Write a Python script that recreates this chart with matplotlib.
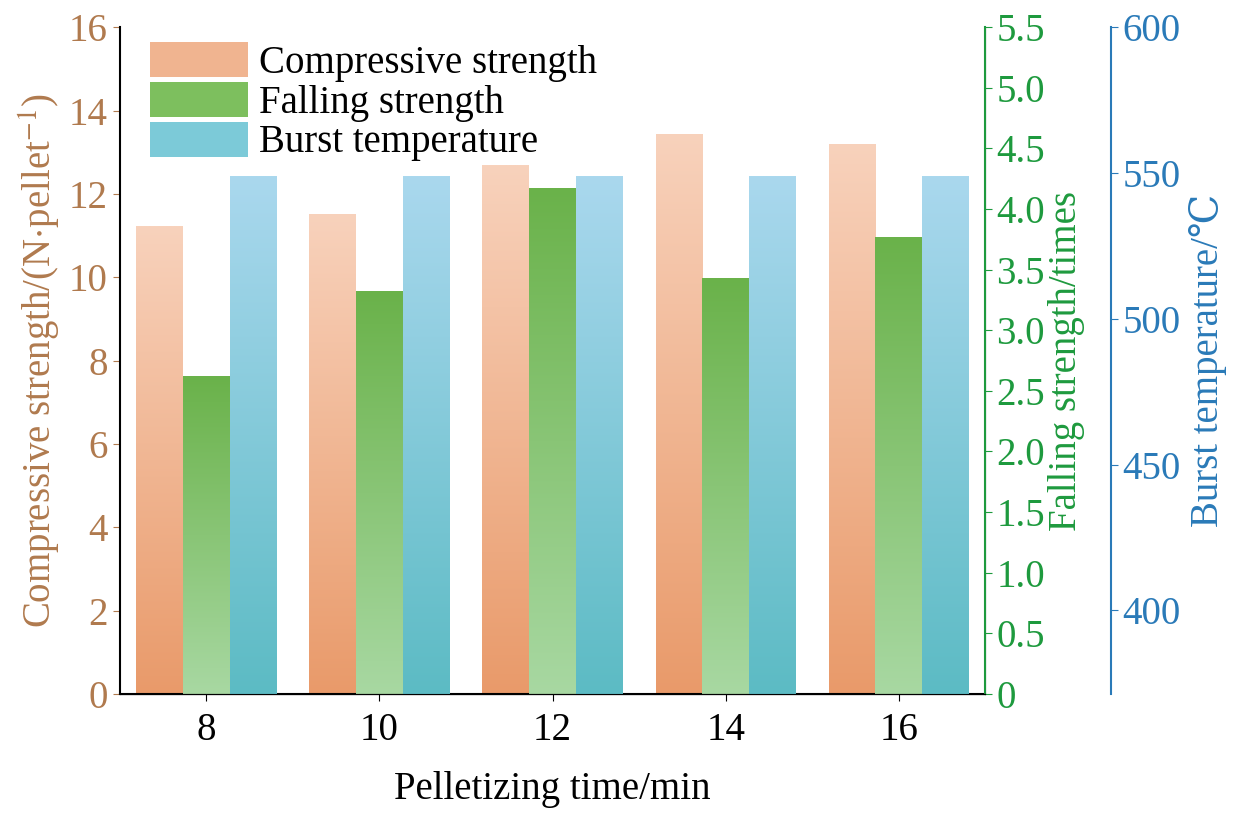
import numpy as np
import matplotlib
matplotlib.use("Agg")
import matplotlib.pyplot as plt
from matplotlib.colors import LinearSegmentedColormap
from matplotlib.patches import Patch

plt.rcParams['font.family'] = ['Liberation Serif', 'DejaVu Serif']
plt.rcParams['mathtext.fontset'] = 'stix'

times = [8, 10, 12, 14, 16]
compressive = [11.22, 11.53, 12.69, 13.45, 13.21]
falling = [2.62, 3.32, 4.17, 3.43, 3.77]
burst = [549, 549, 549, 549, 549]

c_brown = '#B07A4E'
c_green = '#1E9A3E'
c_blue = '#2A7AB8'

w = 0.54

def gradient_bars(ax, xs, hs, bottom_col, top_col):
    cmap = LinearSegmentedColormap.from_list('g', [bottom_col, top_col])
    y0 = ax.get_ylim()[0]
    bars = ax.bar(xs, [h - y0 for h in hs], w, bottom=y0, color='none', edgecolor='none')
    grad = np.linspace(0, 1, 256).reshape(-1, 1)
    for b in bars:
        x, y = b.get_x(), b.get_y()
        im = ax.imshow(grad, cmap=cmap, origin='lower', aspect='auto',
                       extent=[x, x + b.get_width(), y, y + b.get_height()], zorder=2)
        im.set_clip_path(b)
    return bars

fig = plt.figure(figsize=(12.6, 8.27), dpi=100)
ax = fig.add_axes([0.095, 0.161, 0.687, 0.806])
ax2 = ax.twinx()
ax3 = ax.twinx()
ax3.spines['right'].set_position(('axes', 1.145))

ax.set_ylim(0, 16)
ax2.set_ylim(0, 5.5)
ax3.set_ylim(371.4, 600)
for a in (ax, ax2, ax3):
    a.set_xlim(7.0, 17.0)

x = np.array(times, dtype=float)
gradient_bars(ax, x - w, compressive, '#E99A6A', '#F8D2BC')
gradient_bars(ax2, x, falling, '#A8D8A2', '#6AB24A')
gradient_bars(ax3, x + w, burst, '#5CBBC4', '#AAD8EE')

ax.set_xticks(times)
ax.set_yticks(range(0, 17, 2))
ax2.set_yticks(np.arange(0, 5.6, 0.5))
ax2.set_yticklabels(['0'] + [f'{v:.1f}' for v in np.arange(0.5, 5.6, 0.5)])
ax3.set_yticks([400, 450, 500, 550, 600])

fs = 28
ax.tick_params(axis='x', labelsize=fs, length=5, pad=8)
ax.tick_params(axis='y', labelsize=fs, colors=c_brown, length=5)
ax2.tick_params(axis='y', labelsize=fs, colors=c_green, length=5, pad=3)
ax3.tick_params(axis='y', labelsize=fs, colors=c_blue, length=5)

ax.spines['top'].set_visible(False)
ax2.spines['top'].set_visible(False)
ax3.spines['top'].set_visible(False)
ax2.spines['right'].set_color(c_green)
ax3.spines['right'].set_color(c_blue)
for s in ('left', 'right'):
    ax3.spines[s].set_visible(s == 'right')
ax2.spines['left'].set_visible(False)
ax2.spines['right'].set_linewidth(1.5)
ax3.spines['right'].set_linewidth(1.5)
ax.spines['left'].set_linewidth(1.5)
ax.spines['bottom'].set_linewidth(1.5)

ax.set_xlabel('Pelletizing time/min', fontsize=fs, labelpad=16)
ax.set_ylabel(r'Compressive strength/(N$\cdot$pellet$^{-1}$)', fontsize=fs, color=c_brown, labelpad=4)
ax2.set_ylabel('Falling strength/times', fontsize=fs, color=c_green, labelpad=2)
ax3.set_ylabel('Burst temperature/℃', fontsize=fs, color=c_blue, labelpad=6)

handles = [Patch(facecolor='#F0B490'), Patch(facecolor='#7DBF5E'), Patch(facecolor='#7CCAD8')]
ax.legend(handles, ['Compressive strength', 'Falling strength', 'Burst temperature'],
          loc='upper left', bbox_to_anchor=(-0.005, 1.03), frameon=False, fontsize=fs,
          handlelength=2.5, handleheight=1.0, labelspacing=0.0, handletextpad=0.3)

fig.savefig('out.png', dpi=100)
